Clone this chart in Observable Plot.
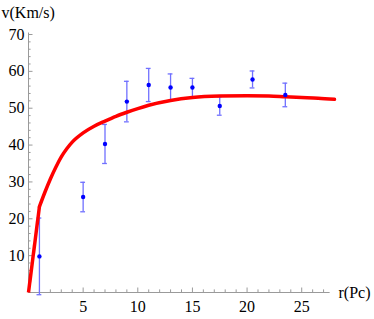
<!DOCTYPE html>
<html>
<head>
<meta charset="utf-8">
<script src="https://cdn.jsdelivr.net/npm/d3@7"></script>
<script src="https://cdn.jsdelivr.net/npm/@observablehq/plot@0.6"></script>
<style>
  html, body { margin: 0; padding: 0; background: #fff; }
  svg { display: block; }
  svg text { font-family: "Liberation Serif", "DejaVu Serif", serif !important; }
</style>
</head>
<body>
<div id="chart"></div>
<script>
// Observed data points: radius (Pc), velocity (Km/s), error
const radii = [1, 5, 7, 9, 11, 13, 15, 17.5, 20.5, 23.5];
const velocities = [9.8, 25.9, 40.3, 51.8, 56.3, 55.6, 55.6, 50.6, 57.8, 53.6];
const errors = [10.4, 4.0, 5.3, 5.5, 4.5, 3.7, 2.5, 2.5, 2.3, 3.2];

// Fitted rotation curve
const curveR = [0, 1.0, 1.5, 2.0, 2.5, 3.0, 3.5, 4.0, 5.0, 6.0, 7.0, 8.0, 9.0, 10, 11, 13, 15, 17.5, 20, 22, 23.5, 25, 26.5, 28];
const curveV = [0, 23.3, 27.2, 30.8, 34.0, 36.8, 39.0, 40.8, 43.3, 45.1, 46.5, 47.8, 48.9, 49.9, 50.8, 52.1, 52.9, 53.3, 53.4, 53.3, 53.1, 52.9, 52.7, 52.4];

// Tick labels
const xTickLabels = [5, 10, 15, 20, 25];
const yTickLabels = [10, 20, 30, 40, 50, 60, 70];
const xMinorTicks = d3.range(1, 28);
const yMinorTicks = d3.range(2, 71, 2);

const points = radii.map((r, i) => ({r, v: velocities[i], e: errors[i]}));
const curve = curveR.map((r, i) => ({r, v: curveV[i]}));
const kink = 1.0;

const axisColor = "#9a9a9a";
const barColor = "#7070ff";
const pxX = 10.92, pxY = 3.686; // only for converting tick/cap pixel lengths to data units

const chart = Plot.plot({
  width: 374,
  height: 319,
  marginLeft: 28,
  marginRight: 40,
  marginTop: 34,
  marginBottom: 27,
  x: {domain: [0, 28]},
  y: {domain: [0, 70]},
  style: {fontSize: "16px", color: "#000", background: "#fff", overflow: "visible"},
  marks: [
    // axes lines
    Plot.ruleY([0], {x1: 0, x2: 27.6, stroke: axisColor, strokeWidth: 1}),
    Plot.ruleX([0], {y1: 0, y2: 70.4, stroke: axisColor, strokeWidth: 1}),
    // x ticks (inward)
    Plot.ruleX(xMinorTicks, {x: d => d, y1: 0, y2: d => (d % 5 === 0 ? 4.5 : 2.6) / pxY, stroke: axisColor, strokeWidth: 1}),
    // y ticks (inward)
    Plot.ruleY(yMinorTicks, {y: d => d, x1: 0, x2: d => (d % 10 === 0 ? 4.5 : 2.6) / pxX, stroke: axisColor, strokeWidth: 1}),
    Plot.axisX({ticks: xTickLabels, tickSize: 0, tickPadding: 8, fontSize: 16, label: null}),
    Plot.axisY({ticks: yTickLabels, tickSize: 0, tickPadding: 4, fontSize: 16, label: null}),
    // axis titles
    Plot.text(["v(Km/s)"], {frameAnchor: "top-left", dx: -27, dy: -22, textAnchor: "start", lineAnchor: "middle", fontSize: 16}),
    Plot.text(["r(Pc)"], {frameAnchor: "bottom-right", dx: 4, dy: 0, textAnchor: "start", lineAnchor: "middle", fontSize: 16}),
    // error bars
    Plot.ruleX(points, {x: "r", y1: d => d.v - d.e, y2: d => d.v + d.e, stroke: barColor, strokeWidth: 1.3}),
    Plot.ruleY(points, {y: d => d.v + d.e, x1: d => d.r - 2.4 / pxX, x2: d => d.r + 2.4 / pxX, stroke: barColor, strokeWidth: 1.3}),
    Plot.ruleY(points, {y: d => d.v - d.e, x1: d => d.r - 2.4 / pxX, x2: d => d.r + 2.4 / pxX, stroke: barColor, strokeWidth: 1.3}),
    // fitted curve: straight inner part, smooth outer part
    Plot.line(curve.filter(d => d.r <= kink), {x: "r", y: "v", stroke: "#ff0000", strokeWidth: 3.5, strokeLinecap: "butt"}),
    Plot.line(curve.filter(d => d.r >= kink), {x: "r", y: "v", stroke: "#ff0000", strokeWidth: 3.5, curve: "monotone-x"}),
    // data points
    Plot.dot(points, {x: "r", y: "v", r: 2.2, fill: "#0000ff", stroke: "none"})
  ]
});
document.getElementById("chart").appendChild(chart);
</script>
</body>
</html>
